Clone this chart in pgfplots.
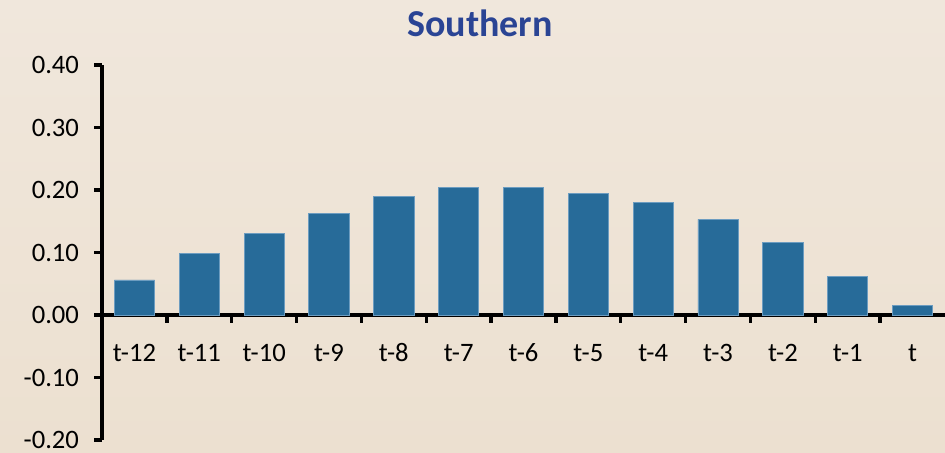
\documentclass[border=0pt]{standalone}
\usepackage{pgfplots}
\pgfplotsset{compat=1.18}
\usepackage{fontspec}
\setmainfont{Carlito}

\definecolor{bgtop}{HTML}{F0E7DC}
\definecolor{bgbot}{HTML}{ECE0D0}
\definecolor{barblue}{HTML}{276B99}
\definecolor{baredge}{HTML}{6C9CC0}
\definecolor{titleblue}{HTML}{2A4494}

\pgfplotstableread{
idx value
0  0.056
1  0.098
2  0.130
3  0.162
4  0.190
5  0.204
6  0.204
7  0.194
8  0.180
9  0.153
10 0.116
11 0.061
12 0.015
}\southern

\begin{document}
\begin{tikzpicture}
  % panel background
  \shade[top color=bgtop, bottom color=bgbot] (0,0) rectangle (472.5pt,226.5pt);
  \path[use as bounding box] (0,0) rectangle (472.5pt,226.5pt);

  \begin{axis}[
    at={(51pt,6.5pt)}, anchor=south west,
    scale only axis,
    width=421.5pt, height=187.5pt,
    xmin=-0.5, xmax=12.5,
    ymin=-0.2, ymax=0.4,
    axis x line*=middle,
    axis y line*=left,
    axis line style={line width=1.7pt, black},
    tick align=outside,
    major tick length=4pt,
    minor tick length=4pt,
    xtick={0,...,12},
    xticklabels={t-12,t-11,t-10,t-9,t-8,t-7,t-6,t-5,t-4,t-3,t-2,t-1,t},
    major x tick style={draw=none},
    minor xtick={0.5,1.5,...,11.5},
    minor x tick style={line width=1.7pt, black},
    ytick={-0.2,-0.1,0,0.1,0.2,0.3,0.4},
    yticklabels={-0.20,-0.10,0.00,0.10,0.20,0.30,0.40},
    major y tick style={line width=1.7pt, black},
    ticklabel style={font=\fontsize{13.3}{13.3}\selectfont, text=black},
    xticklabel style={anchor=base, yshift=-19.25pt},
    yticklabel style={anchor=east, xshift=-4pt},
    clip=false,
  ]
    \addplot[ybar, bar width=0.62, fill=barblue, draw=baredge, line width=0.4pt]
      table[x=idx, y=value] {\southern};
  \end{axis}

  \node[anchor=base, text=titleblue, font=\fontsize{19}{19}\selectfont\bfseries]
    at (240pt,208.2pt) {Southern};
\end{tikzpicture}
\end{document}
